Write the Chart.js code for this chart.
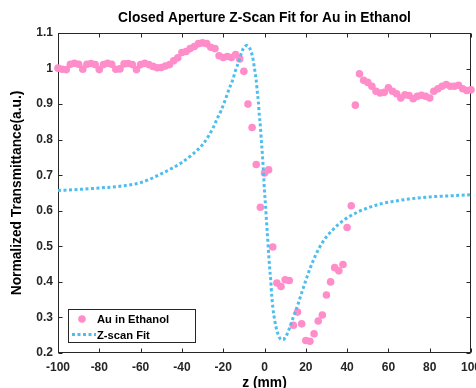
<!DOCTYPE html>
<html><head><meta charset="utf-8">
<script src="https://cdn.jsdelivr.net/npm/chart.js@4/dist/chart.umd.min.js"></script>
<style>html,body{margin:0;padding:0;background:#fff;overflow:hidden}</style>
</head><body>
<canvas id="c" width="476" height="388"></canvas>
<script>
const titleText = 'Closed Aperture Z-Scan Fit for Au in Ethanol';
const xLabel = 'z (mm)';
const yLabel = 'Normalized Transmittance(a.u.)';
const seriesLabels = ['Au in Ethanol', 'Z-scan Fit'];

const zPositions = [
 -100,-98,-96,-94,-92,-90,-88,-86,-84,-82,
 -80,-78,-76,-74,-72,-70,-68,-66,-64,-62,
 -60,-58,-56,-54,-52,-50,-48,-46,-44,-42,
 -40,-38,-36,-34,-32,-30,-28,-26,-24,-22,
 -20,-18,-16,-14,-12,-10,-8,-6,-4,-2,
 0,2,4,6,8,10,12,14,16,18,
 20,22,24,26,28,30,32,34,36,38,
 40,42,44,46,48,50,52,54,56,58,
 60,62,64,66,68,70,72,74,76,78,
 80,82,84,86,88,90,92,94,96,98,
 100];
const auTransmittance = [
 1.001,0.998,0.997,1.012,1.015,1.012,0.998,1.012,1.014,1.011,
 0.997,1.011,1.015,1.012,0.998,0.999,1.013,1.014,1.011,0.997,
 1.011,1.015,1.011,1.006,1.002,1.003,1.007,1.011,1.022,1.030,
 1.045,1.048,1.056,1.062,1.070,1.072,1.070,1.060,1.056,1.036,
 1.031,1.034,1.031,1.039,1.027,0.992,0.900,0.834,0.730,0.610,
 0.706,0.715,0.498,0.397,0.387,0.406,0.404,0.278,0.315,0.282,
 0.235,0.233,0.254,0.290,0.307,0.363,0.400,0.440,0.431,0.449,
 0.553,0.614,0.897,0.985,0.967,0.961,0.950,0.936,0.931,0.933,
 0.946,0.936,0.929,0.917,0.926,0.924,0.915,0.922,0.925,0.922,
 0.917,0.936,0.943,0.950,0.955,0.950,0.950,0.953,0.943,0.938,
 0.940];

const fitZ = [-100,-90,-80,-70,-60,-50,-40,-35,-30,-27,
 -25,-23,-21,-19,-17,-15.5,-14,-12,-11,-9.5,
 -8.5,-7.5,-6.5,-5.5,-5,-4.5,-4,-3.5,-3,-2.5,
 -2,-1.5,-1,-0.5,0,0.5,1,1.5,2,2.5,
 3,3.5,4,5,6,7,8,9,10,11,
 12,14,16,18,20,22,25,28,30,33,
 36,40,45,50,56,62,70,80,90,100];
const fitT = [0.657,0.660,0.664,0.669,0.679,0.704,0.736,0.758,0.786,0.811,
 0.832,0.858,0.882,0.912,0.945,0.966,0.995,1.027,1.047,1.062,
 1.065,1.060,1.048,1.025,1.006,0.987,0.967,0.935,0.908,0.868,
 0.838,0.795,0.757,0.708,0.656,0.615,0.568,0.525,0.480,0.440,
 0.406,0.362,0.330,0.290,0.263,0.246,0.238,0.237,0.244,0.254,
 0.268,0.302,0.333,0.369,0.404,0.437,0.478,0.510,0.527,0.546,
 0.563,0.580,0.596,0.608,0.619,0.626,0.633,0.639,0.642,0.645];

const xTicks = [-100,-80,-60,-40,-20,0,20,40,60,80,100];
const yTicks = [0.2,0.3,0.4,0.5,0.6,0.7,0.8,0.9,1.0,1.1];

const FONT = '"Liberation Sans", Arial, Helvetica, sans-serif';
const AXIS = '#262626';
const PINK = '#ff8dc9';
const BLUE = '#4dbeee';

const frame = {
  id: 'frame',
  beforeDatasetsDraw(chart) {
    const {ctx, chartArea: a, scales: {x, y}} = chart;
    ctx.save();
    ctx.strokeStyle = AXIS;
    ctx.lineWidth = 1;
    const L = Math.round(a.left) + 0.5, R = Math.round(a.right) - 0.5;
    const T = Math.round(a.top) + 0.5, B = Math.round(a.bottom) - 0.5;
    ctx.strokeRect(L, T, R - L, B - T);
    const tl = 4;
    ctx.beginPath();
    x.ticks.forEach(t => {
      const px = Math.round(x.getPixelForValue(t.value)) + 0.5;
      ctx.moveTo(px, B); ctx.lineTo(px, B - tl);
      ctx.moveTo(px, T); ctx.lineTo(px, T + tl);
    });
    y.ticks.forEach(t => {
      const py = Math.round(y.getPixelForValue(t.value)) + 0.5;
      ctx.moveTo(L, py); ctx.lineTo(L + tl, py);
      ctx.moveTo(R, py); ctx.lineTo(R - tl, py);
    });
    ctx.stroke();
    ctx.restore();
  }
};

const legendBox = {
  id: 'legendBox',
  afterDraw(chart) {
    const {ctx, chartArea: a} = chart;
    const ds = chart.data.datasets;
    const left = Math.round(a.left) + 10, top = Math.round(a.bottom) - 44, w = 127, h = 33;
    ctx.save();
    ctx.fillStyle = '#fff';
    ctx.fillRect(left, top, w, h);
    ctx.strokeStyle = AXIS;
    ctx.lineWidth = 1;
    ctx.strokeRect(left + 0.5, top + 0.5, w, h);
    ctx.fillStyle = ds[0].backgroundColor;
    ctx.beginPath();
    ctx.arc(left + 14, top + 10, ds[0].pointRadius, 0, Math.PI * 2);
    ctx.fill();
    ctx.strokeStyle = ds[1].borderColor;
    ctx.lineWidth = ds[1].borderWidth;
    ctx.setLineDash(ds[1].borderDash);
    ctx.beginPath();
    ctx.moveTo(left + 4, top + 25.5);
    ctx.lineTo(left + 28, top + 25.5);
    ctx.stroke();
    ctx.setLineDash([]);
    ctx.fillStyle = '#000';
    ctx.font = 'bold 11.2px ' + FONT;
    ctx.textBaseline = 'middle';
    ctx.textAlign = 'left';
    ctx.fillText(ds[0].label, left + 29, top + 11);
    ctx.fillText(ds[1].label, left + 29, top + 26.5);
    ctx.restore();
  }
};

new Chart(document.getElementById('c'), {
  type: 'scatter',
  data: {
    datasets: [
      {
        label: seriesLabels[0],
        data: zPositions.map((z, i) => ({x: z, y: auTransmittance[i]})),
        showLine: false,
        pointRadius: 3.8,
        pointHoverRadius: 3.8,
        pointBorderWidth: 0,
        backgroundColor: PINK,
        borderColor: PINK,
        clip: false,
        order: 1
      },
      {
        label: seriesLabels[1],
        data: fitZ.map((z, i) => ({x: z, y: fitT[i]})),
        type: 'line',
        showLine: true,
        pointRadius: 0,
        borderColor: BLUE,
        borderWidth: 3,
        borderDash: [3, 2.5],
        borderCapStyle: 'butt',
        cubicInterpolationMode: 'monotone',
        fill: false,
        order: 0
      }
    ]
  },
  options: {
    responsive: false,
    animation: false,
    devicePixelRatio: 1,
    layout: {padding: {left: 0, right: 5, top: 0, bottom: 0}},
    plugins: {
      legend: {display: false},
      tooltip: {enabled: false},
      title: {
        display: true,
        text: titleText,
        color: '#000',
        fullSize: false,
        font: {family: FONT, size: 13.8, weight: 'bold'},
        padding: {top: 10, bottom: 6.4}
      }
    },
    scales: {
      x: {
        type: 'linear',
        min: -100, max: 100,
        afterBuildTicks(s) { s.ticks = xTicks.map(v => ({value: v})); },
        grid: {display: false, drawTicks: false},
        border: {display: false},
        ticks: {
          font: {family: FONT, size: 12, weight: 'bold'},
          color: AXIS, padding: 7, maxRotation: 0, autoSkip: false,
          callback: v => String(v)
        },
        title: {
          display: true, text: xLabel, color: '#000',
          font: {family: FONT, size: 13.8, weight: 'bold', lineHeight: 1},
          padding: {top: 0, bottom: -2}
        },
        afterFit(s) { s.height = 35; s.paddingLeft = 0; s.paddingRight = 0; }
      },
      y: {
        type: 'linear',
        min: 0.2, max: 1.1,
        afterBuildTicks(s) { s.ticks = yTicks.map(v => ({value: v})); },
        grid: {display: false, drawTicks: false},
        border: {display: false},
        ticks: {
          font: {family: FONT, size: 12, weight: 'bold'},
          color: AXIS, padding: 5,
          callback: v => String(Math.round(v * 10) / 10)
        },
        title: {
          display: true, text: yLabel, color: '#000',
          font: {family: FONT, size: 13.8, weight: 'bold', lineHeight: 1.2},
          padding: {top: 9.3, bottom: 0}
        },
        afterFit(s) { s.width = 58; s.paddingTop = 0; s.paddingBottom = 0; }
      }
    }
  },
  plugins: [frame, legendBox]
});
</script>
</body></html>
